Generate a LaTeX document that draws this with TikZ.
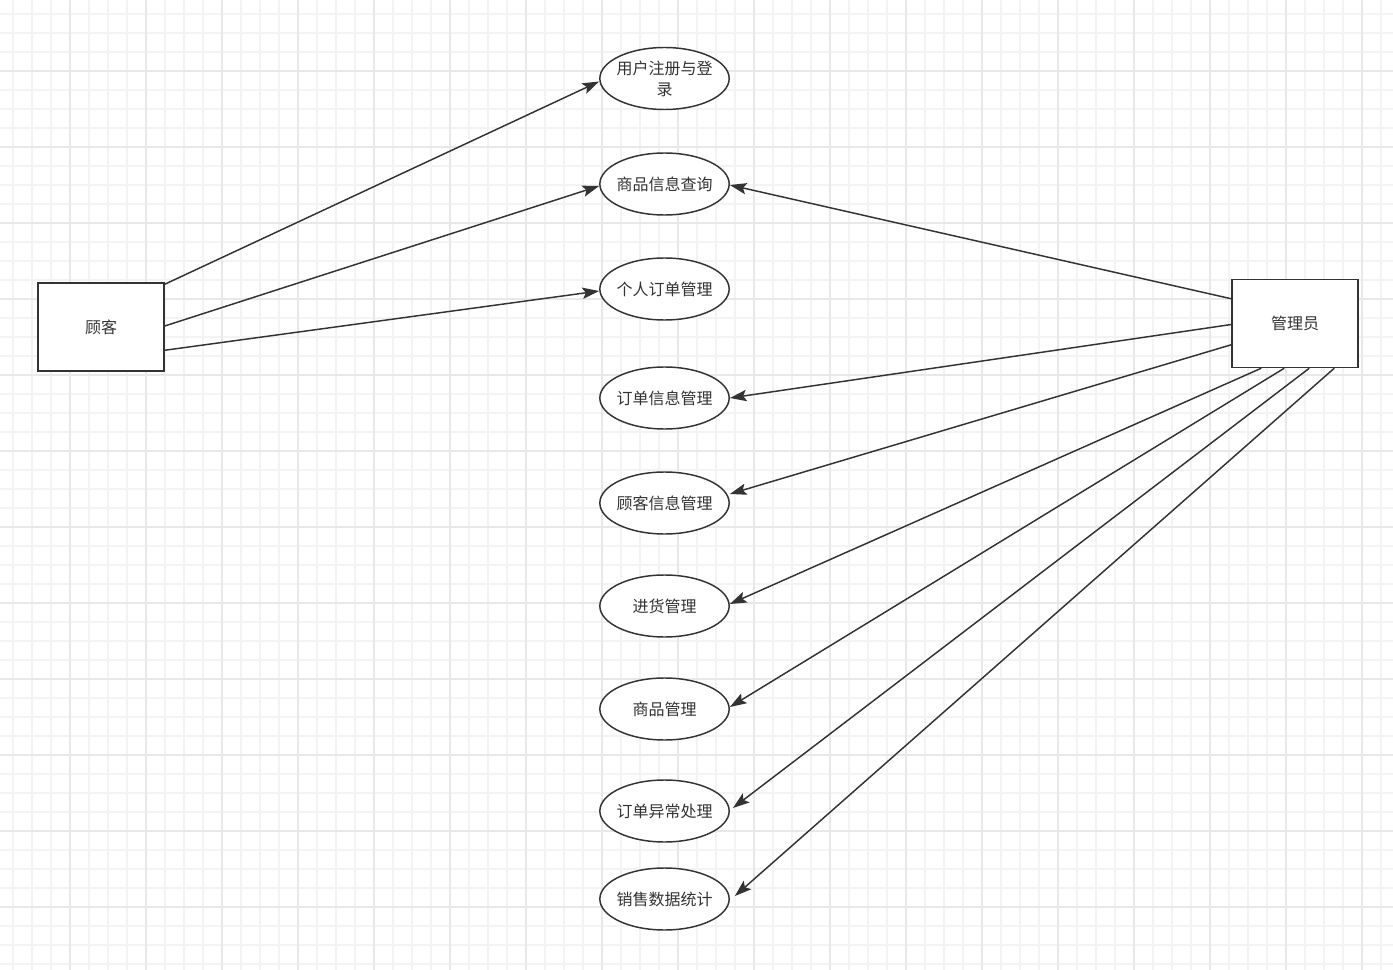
\documentclass[tikz,border=0pt]{standalone}
\usepackage{fontspec}
\newfontfamily\cjk{Noto Sans CJK SC}
\usetikzlibrary{shapes.geometric,arrows.meta,calc}
\definecolor{ink}{HTML}{333333}
\definecolor{gminor}{HTML}{F3F3F3}
\definecolor{gmajor}{HTML}{E8E8E8}
\tikzset{
  actor/.style={draw=ink, fill=white, line width=1.1pt, minimum width=94.5pt, minimum height=66pt, inner sep=0pt, text=ink, font=\cjk\fontsize{12}{15.75}\selectfont},
  usecase/.style={draw=ink, fill=white, line width=1.1pt, ellipse, minimum width=97pt, minimum height=46.5pt, inner sep=0pt},
  uctext/.style={text=ink, font=\cjk\fontsize{12}{15.75}\selectfont, align=center},
  conn/.style={draw=ink, line width=1.1pt, -{Stealth[length=12.5pt, width=8.5pt, inset=2.5pt]}},
}
\begin{document}
\begin{tikzpicture}[x=0.75pt, y=-0.75pt]
\useasboundingbox (0,0) rectangle (1393,970);
\fill[white] (0,0) rectangle (1393,970);
% grid
\foreach \k in {1,...,74} {\draw[gminor, line width=0.9pt] ({-6+19*\k},0) -- ({-6+19*\k},970);}
\foreach \k in {1,...,52} {\draw[gminor, line width=0.9pt] (0,{-5+19*\k}) -- (1393,{-5+19*\k});}
\foreach \k in {1,...,18} {\draw[gmajor, line width=1.1pt] ({-6+76*\k},0) -- ({-6+76*\k},970);}
\foreach \k in {1,...,13} {\draw[gmajor, line width=1.1pt] (0,{-5+76*\k}) -- (1393,{-5+76*\k});}

% actors
\node[actor] (cust) at (101,327) {顾客};
\node[actor] (adm) at (1295,323.5) {管理员};

% use cases
\node[usecase, label={[uctext]center:用户注册与登\\录}] (u1) at (664.5,78.5) {};
\node[usecase, label={[uctext]center:商品信息查询}] (u2) at (664.5,184) {};
\node[usecase, label={[uctext]center:个人订单管理}] (u3) at (664.5,289) {};
\node[usecase, label={[uctext]center:订单信息管理}] (u4) at (664.5,398) {};
\node[usecase, label={[uctext]center:顾客信息管理}] (u5) at (664.5,503) {};
\node[usecase, label={[uctext]center:进货管理}] (u6) at (664.5,606) {};
\node[usecase, label={[uctext]center:商品管理}] (u7) at (664.5,709) {};
\node[usecase, label={[uctext]center:订单异常处理}] (u8) at (664.5,811) {};
\node[usecase, label={[uctext]center:销售数据统计}] (u9) at (664.5,899) {};

% customer connectors
\draw[conn] ($(cust.north east)+(0,2)$) -- ($(u1.west)+(0,3)$);
\draw[conn] ($(cust.east)+(0,-1)$) -- ($(u2.west)+(0,2)$);
\draw[conn] ($(cust.north east)+(0,68)$) -- ($(u3.west)+(0,2)$);

% admin connectors
\draw[conn] ($(adm.north west)+(0,20)$) -- ($(u2.east)+(0,1)$);
\draw[conn] ($(adm.west)+(0,1)$) -- (u4.east);
\draw[conn] ($(adm.north west)+(0,66)$) -- ($(u5.east)+(0,-9)$);
\draw[conn] ($(adm.south west)+(30,0)$) -- ($(u6.east)+(0,-2)$);
\draw[conn] ($(adm.south west)+(53,0)$) -- ($(u7.east)+(0,-2)$);
\draw[conn] ($(adm.south west)+(78,0)$) -- ($(u8.east)+(3,-3)$);
\draw[conn] ($(adm.south west)+(103,0)$) -- ($(u9.east)+(5,-3)$);
\end{tikzpicture}
\end{document}
